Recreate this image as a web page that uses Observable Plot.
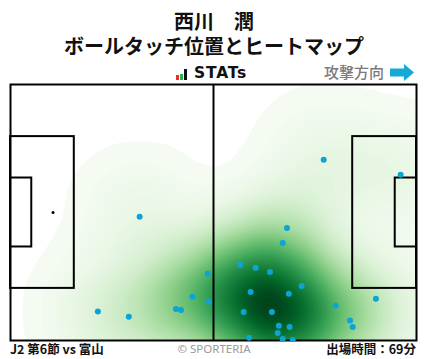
<!DOCTYPE html>
<html>
<head>
<meta charset="utf-8">
<script src="https://cdn.jsdelivr.net/npm/d3@7"></script>
<script src="https://cdn.jsdelivr.net/npm/@observablehq/plot@0.6"></script>
<style>
  html, body { margin: 0; padding: 0; background: #fff; }
  body { width: 428px; height: 359px; position: relative; overflow: hidden; font-family: "Noto Sans CJK JP", "Noto Sans", sans-serif; }
  .abs { position: absolute; white-space: nowrap; }
  #t1, #t2 { left: 0; width: 428px; text-align: center; font-weight: 700; font-size: 20px; line-height: 22px; color: #111; }
  #t1 { top: 10px; }
  #t2 { top: 35px; }
  #logo { left: 176px; top: 64px; height: 16px; display: flex; align-items: flex-end; }
  .bar { width: 3px; margin-right: 1px; }
  #stats { font-family: "DejaVu Sans", sans-serif; font-weight: 700; font-size: 15.5px; line-height: 16px; margin-left: 6px; color: #111; letter-spacing: 0.8px; position: relative; top: 1px; }
  #dir { left: 324px; top: 62px; font-size: 15px; line-height: 20px; color: #7a7a7a; font-weight: 500; }
  #arrow { left: 390px; top: 64px; }
  #chart { left: 0; top: 82px; }
  .foot { top: 340px; font-size: 12.5px; line-height: 18px; font-weight: 700; color: #111; }
  #f1 { left: 10px; }
  #f2 { left: 0; width: 428px; text-align: center; font-weight: 400; color: #9a9a9a; font-family: "Noto Sans", sans-serif; font-size: 11.5px; }
  #f3 { right: 12px; }
</style>
</head>
<body>
<div id="t1" class="abs"></div>
<div id="t2" class="abs"></div>
<div id="logo" class="abs">
  <div class="bar" style="height:5px;background:#e8312f"></div>
  <div class="bar" style="height:6px;background:#2bb24c"></div>
  <div class="bar" style="height:11px;background:#111"></div>
  <span id="stats">STATs</span>
</div>
<div id="dir" class="abs"></div>
<svg id="arrow" class="abs" width="26" height="17" viewBox="0 0 26 17">
  <path d="M0 4.5 H14 V0 L24 8.5 L14 17 V12.5 H0 Z" fill="#14a9d6"/>
</svg>
<div id="chart" class="abs"></div>
<div id="f1" class="abs foot"></div>
<div id="f2" class="abs foot"></div>
<div id="f3" class="abs foot"></div>
<script>
// ---- texts ----
const playerName = "西川　潤";
const chartTitle = "ボールタッチ位置とヒートマップ";
const directionLabel = "攻撃方向";
const matchLabel = "J2 第6節 vs 富山";
const creditLabel = "© SPORTERIA";
const minutesLabel = "出場時間：69分";

// ---- ball touch positions (metres; x toward attacking goal, y from top touchline) ----
const touchX = [33.4, 81.0, 100.9, 71.5, 70.4, 59.4, 63.4, 67.1, 51.0, 75.3,
                62.1, 72.0, 47.1, 94.5, 51.3, 84.1, 42.8, 44.1, 60.3, 67.6,
                22.6, 30.6, 87.8, 88.5, 69.4, 72.2, 69.1, 61.7, 70.4, 73.0];
const touchY = [35.1, 20.0, 24.0, 38.1, 42.1, 47.9, 48.7, 49.8, 50.3, 53.5,
                55.1, 55.6, 56.4, 56.9, 57.7, 58.8, 59.6, 59.9, 60.4, 60.4,
                60.3, 61.7, 62.7, 64.4, 64.1, 64.4, 66.0, 67.3, 67.6, 67.9];

// ---- pitch markings (metres) ----
const pitchLength = 105, pitchWidth = 68;
const boxes = [
  {x1: 0, x2: 16.5, y1: 13.84, y2: 54.16},
  {x1: 88.5, x2: 105, y1: 13.84, y2: 54.16},
  {x1: 0, x2: 5.5, y1: 24.84, y2: 43.16},
  {x1: 99.5, x2: 105, y1: 24.84, y2: 43.16}
];
const halfwayX = [52.5];
const spotsX = [11, 94], spotsY = [34, 34];

const touches = touchX.map((x, i) => ({x, y: touchY[i]}));
const spots = spotsX.map((x, i) => ({x, y: spotsY[i]}));

document.getElementById("t1").textContent = playerName;
document.getElementById("t2").textContent = chartTitle;
document.getElementById("dir").textContent = directionLabel;
document.getElementById("f1").textContent = matchLabel;
document.getElementById("f2").textContent = creditLabel;
document.getElementById("f3").textContent = minutesLabel;

const chart = Plot.plot({
  width: 428,
  height: 260,
  marginLeft: 10,
  marginRight: 12,
  marginTop: 2,
  marginBottom: 2,
  x: {domain: [0, pitchLength], axis: null},
  y: {domain: [0, pitchWidth], reverse: true, axis: null},
  color: {scheme: "greens"},
  marks: [
    Plot.dot(spots, {x: "x", y: "y", r: 1.5, fill: "black"}),
    Plot.density(touches, {x: "x", y: "y", fill: "density", bandwidth: 34, thresholds: 90, clip: true}),
    Plot.rect(boxes, {x1: "x1", x2: "x2", y1: "y1", y2: "y2", fill: "none", stroke: "black", strokeWidth: 2}),
    Plot.ruleX(halfwayX, {y1: 0, y2: pitchWidth, stroke: "black", strokeWidth: 2}),
    Plot.frame({stroke: "black", strokeWidth: 2}),
    Plot.dot(touches, {x: "x", y: "y", r: 3, fill: "#0aa5d6"})
  ]
});
document.getElementById("chart").appendChild(chart);
</script>
</body>
</html>
